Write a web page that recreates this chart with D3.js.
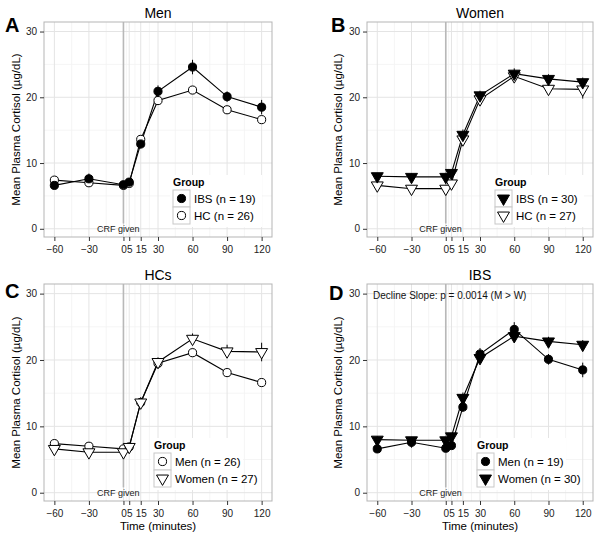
<!DOCTYPE html>
<html>
<head>
<meta charset="utf-8">
<script src="https://cdn.jsdelivr.net/npm/d3@7"></script>
<style>
  html, body { margin: 0; padding: 0; background: #fff; }
  svg { display: block; font-family: "Liberation Sans", Arial, Helvetica, sans-serif; }
</style>
</head>
<body>
<svg id="chart" width="600" height="536"></svg>
<script>
// ---------------- DATA ----------------
const times = [-60, -30, 0, 5, 15, 30, 60, 90, 120];
const xTickValues = [-60, -30, 0, 5, 15, 30, 60, 90, 120];
const xMinorValues = [-45, -15, 2.5, 10, 22.5, 45, 75, 105];
const yTickValues = [0, 10, 20, 30];
const yMinorValues = [5, 15, 25];

const menIBS     = [6.6, 7.6, 6.7, 7.1, 12.9, 20.9, 24.6, 20.1, 18.5];
const menIBS_se  = [0.5, 0.8, 0.5, 0.5, 0.7, 0.9, 1.1, 0.8, 1.1];
const menHC      = [7.4, 7.0, 6.6, 6.9, 13.6, 19.5, 21.1, 18.1, 16.6];
const menHC_se   = [0.5, 0.5, 0.4, 0.4, 0.6, 0.6, 0.6, 0.6, 0.5];
const womenIBS   = [8.0, 7.9, 7.9, 8.5, 14.3, 20.3, 23.6, 22.8, 22.3];
const womenIBS_se= [0.5, 0.5, 0.5, 0.5, 0.8, 0.7, 0.8, 0.7, 0.7];
const womenHC    = [6.6, 6.1, 6.1, 6.9, 13.6, 19.7, 23.2, 21.3, 21.2];
const womenHC_se = [0.5, 0.4, 0.4, 0.4, 0.8, 0.7, 0.8, 1.0, 1.4];

const panelTitles = ["Men", "Women", "HCs", "IBS"];
const panelLetters = ["A", "B", "C", "D"];
const legendTitle = "Group";
const yAxisTitle = "Mean Plasma Cortisol (\u00b5g/dL)";
const xAxisTitle = "Time (minutes)";
const crfLabel = "CRF given";
const declineNote = "Decline Slope: p = 0.0014 (M > W)";

// series per panel (draw order), legend order given separately
const panelSeries = [
  [ {label: "HC (n = 26)",  values: menHC,    se: menHC_se,    shape: "circle",   fill: "#fff"},
    {label: "IBS (n = 19)", values: menIBS,   se: menIBS_se,   shape: "circle",   fill: "#000"} ],
  [ {label: "HC (n = 27)",  values: womenHC,  se: womenHC_se,  shape: "triangle", fill: "#fff"},
    {label: "IBS (n = 30)", values: womenIBS, se: womenIBS_se, shape: "triangle", fill: "#000"} ],
  [ {label: "Men (n = 26)",   values: menHC,   se: menHC_se,   shape: "circle",   fill: "#fff"},
    {label: "Women (n = 27)", values: womenHC, se: womenHC_se, shape: "triangle", fill: "#fff"} ],
  [ {label: "Men (n = 19)",   values: menIBS,   se: menIBS_se,   shape: "circle",   fill: "#000"},
    {label: "Women (n = 30)", values: womenIBS, se: womenIBS_se, shape: "triangle", fill: "#000"} ]
];
const legendOrders = [[1, 0], [1, 0], [0, 1], [0, 1]];

// ---------------- LAYOUT ----------------
const layouts = [
  {left: 44,  right: 272, top: 22,  bottom: 237, letterX: 5,   letterY: 32,  ytx: 20,  legX: 173, legY: 190, showX: false},
  {left: 367, right: 593, top: 22,  bottom: 237, letterX: 331, letterY: 32,  ytx: 342, legX: 495, legY: 190, showX: false},
  {left: 44,  right: 272, top: 284, bottom: 501, letterX: 5,   letterY: 298, ytx: 20,  legX: 154, legY: 453, showX: true},
  {left: 367, right: 593, top: 284, bottom: 501, letterX: 329, letterY: 300, ytx: 342, legX: 477, legY: 453, showX: true}
];

const svg = d3.select("#chart");
const triangleDown = d3.symbol().type(d3.symbolTriangle).size(62);
const circleSym = d3.symbol().type(d3.symbolCircle).size(52);

function drawShape(sel, shape, fill) {
  const s = shape === "circle" ? circleSym : triangleDown;
  sel.append("path")
    .attr("d", s())
    .attr("transform", shape === "circle" ? null : "rotate(180)")
    .attr("fill", fill)
    .attr("stroke", "#000")
    .attr("stroke-width", 1);
}

layouts.forEach((L, pi) => {
  const g = svg.append("g");
  const x = d3.scaleLinear().domain([-69, 129]).range([L.left, L.right]);
  const y = d3.scaleLinear().domain([-1.25, 31.45]).range([L.bottom, L.top]);

  // panel background
  g.append("rect").attr("x", L.left).attr("y", L.top)
    .attr("width", L.right - L.left).attr("height", L.bottom - L.top)
    .attr("fill", "#fff");

  // minor grid
  g.selectAll(null).data(xMinorValues).enter().append("line")
    .attr("x1", d => x(d)).attr("x2", d => x(d)).attr("y1", L.top).attr("y2", L.bottom)
    .attr("stroke", "#f3f3f3").attr("stroke-width", 0.8);
  g.selectAll(null).data(yMinorValues).enter().append("line")
    .attr("y1", d => y(d)).attr("y2", d => y(d)).attr("x1", L.left).attr("x2", L.right)
    .attr("stroke", "#f3f3f3").attr("stroke-width", 0.8);
  // major grid
  g.selectAll(null).data(xTickValues).enter().append("line")
    .attr("x1", d => x(d)).attr("x2", d => x(d)).attr("y1", L.top).attr("y2", L.bottom)
    .attr("stroke", "#e4e4e4").attr("stroke-width", 1);
  g.selectAll(null).data(yTickValues).enter().append("line")
    .attr("y1", d => y(d)).attr("y2", d => y(d)).attr("x1", L.left).attr("x2", L.right)
    .attr("stroke", "#e4e4e4").attr("stroke-width", 1);

  // CRF vertical line
  g.append("line")
    .attr("x1", x(0)).attr("x2", x(0)).attr("y1", y(0.8)).attr("y2", L.top)
    .attr("stroke", "#b8b8b8").attr("stroke-width", 1.6);
  g.append("text")
    .attr("x", x(-4.5)).attr("y", y(0)).attr("dy", "0.35em")
    .attr("text-anchor", "middle").attr("font-size", 9).attr("fill", "#222")
    .text(crfLabel);

  // annotation panel D
  if (pi === 3) {
    g.append("text").attr("x", L.left + 6).attr("y", y(29.7)).attr("dy", "0.35em")
      .attr("font-size", 10).attr("fill", "#111").text(declineNote);
  }

  const series = panelSeries[pi];
  const line = d3.line().x((d, i) => x(times[i])).y(d => y(d));

  // error bars
  series.forEach(s => {
    g.selectAll(null).data(s.values).enter().append("line")
      .attr("x1", (d, i) => x(times[i])).attr("x2", (d, i) => x(times[i]))
      .attr("y1", (d, i) => y(d - s.se[i])).attr("y2", (d, i) => y(d + s.se[i]))
      .attr("stroke", "#000").attr("stroke-width", 1);
  });
  // lines
  series.forEach(s => {
    g.append("path").datum(s.values).attr("d", line)
      .attr("fill", "none").attr("stroke", "#000").attr("stroke-width", 1.1);
  });
  // points
  series.forEach(s => {
    s.values.forEach((v, i) => {
      const pg = g.append("g").attr("transform", `translate(${x(times[i])},${y(v)})`);
      drawShape(pg, s.shape, s.fill);
    });
  });

  // panel border
  g.append("rect").attr("x", L.left).attr("y", L.top)
    .attr("width", L.right - L.left).attr("height", L.bottom - L.top)
    .attr("fill", "none").attr("stroke", "#b5b5b5").attr("stroke-width", 1);

  // axes
  const xAxis = d3.axisBottom(x).tickValues(xTickValues).tickSize(4).tickSizeOuter(0)
    .tickFormat(d => d < 0 ? "\u2212" + Math.abs(d) : String(d));
  const xa = g.append("g").attr("transform", `translate(0,${L.bottom})`).call(xAxis);
  xa.select(".domain").remove();
  xa.selectAll(".tick line").attr("stroke", "#333");
  xa.selectAll(".tick text").attr("font-size", 10).attr("fill", "#222")
    .attr("font-family", "Liberation Sans, Arial, sans-serif").attr("dy", "0.85em");

  const yAxis = d3.axisLeft(y).tickValues(yTickValues).tickSize(4).tickSizeOuter(0);
  const ya = g.append("g").attr("transform", `translate(${L.left},0)`).call(yAxis);
  ya.select(".domain").remove();
  ya.selectAll(".tick line").attr("stroke", "#333");
  ya.selectAll(".tick text").attr("font-size", 10).attr("fill", "#222")
    .attr("font-family", "Liberation Sans, Arial, sans-serif");

  // titles
  g.append("text").attr("x", (L.left + L.right) / 2).attr("y", L.top - 4)
    .attr("text-anchor", "middle").attr("font-size", 14).attr("fill", "#000")
    .text(panelTitles[pi]);
  g.append("text").attr("x", L.letterX).attr("y", L.letterY)
    .attr("font-size", 20).attr("font-weight", "bold").attr("fill", "#000")
    .text(panelLetters[pi]);
  g.append("text")
    .attr("transform", `translate(${L.ytx},${(L.top + L.bottom) / 2}) rotate(-90)`)
    .attr("text-anchor", "middle").attr("font-size", 11.5).attr("fill", "#000")
    .text(yAxisTitle);
  if (L.showX) {
    g.append("text").attr("x", (L.left + L.right) / 2).attr("y", L.bottom + 28.5)
      .attr("text-anchor", "middle").attr("font-size", 11.5).attr("fill", "#000")
      .text(xAxisTitle);
  }

  // legend
  const lg = g.append("g").attr("transform", `translate(${L.legX},${L.legY})`);
  const keyS = 17;
  lg.append("rect").attr("x", -3).attr("y", -15).attr("width", 92).attr("height", 15 + keyS * 2 + 3)
    .attr("fill", "#fff");
  lg.append("text").attr("x", 0).attr("y", -4).attr("font-size", 10.5).attr("font-weight", "bold")
    .attr("fill", "#000").text(legendTitle);
  legendOrders[pi].forEach((si, k) => {
    const s = series[si];
    lg.append("rect").attr("x", 0).attr("y", k * keyS).attr("width", keyS).attr("height", keyS)
      .attr("fill", "#fff").attr("stroke", "#c8c8c8").attr("stroke-width", 1);
    const kg = lg.append("g").attr("transform", `translate(${keyS / 2},${k * keyS + keyS / 2})`);
    drawShape(kg, s.shape, s.fill);
    lg.append("text").attr("x", keyS + 4).attr("y", k * keyS + keyS / 2).attr("dy", "0.35em")
      .attr("font-size", 11.5).attr("fill", "#000").text(s.label);
  });
});
</script>
</body>
</html>
